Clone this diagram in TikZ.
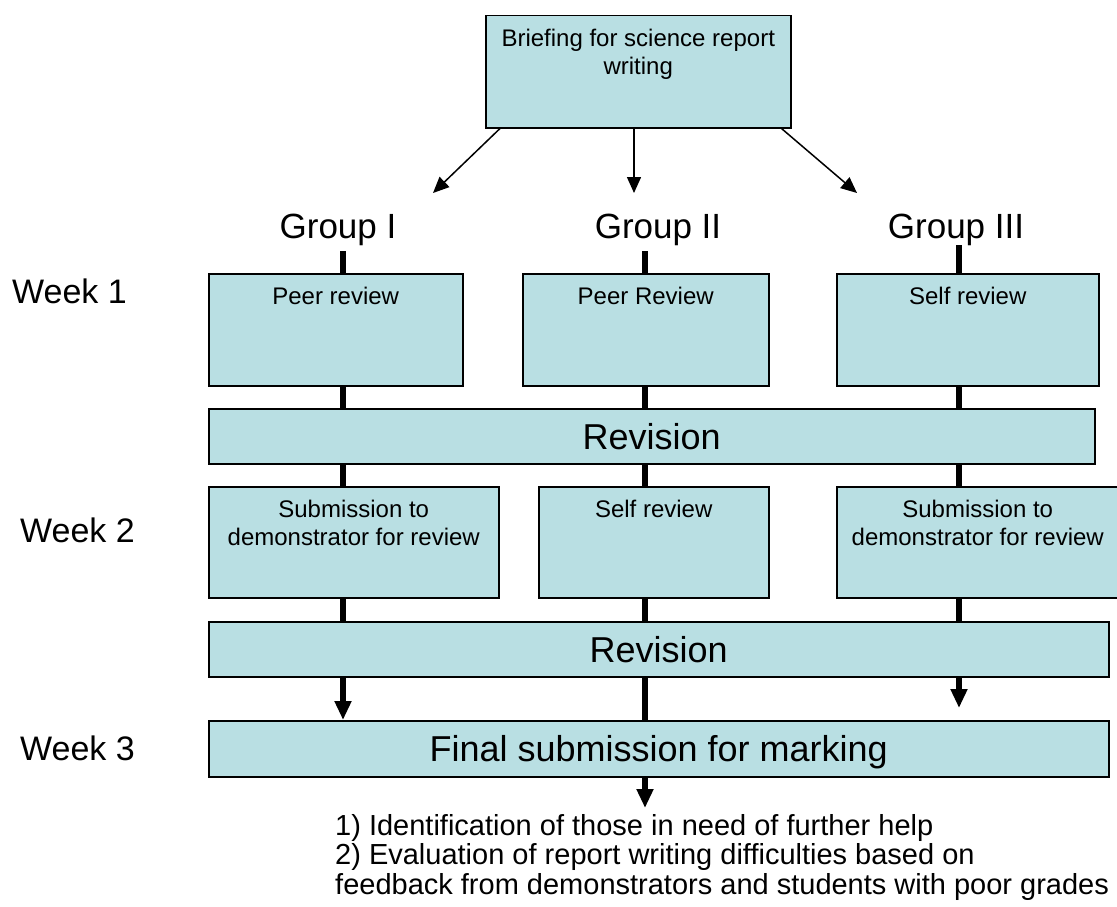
\documentclass[tikz,border=0pt]{standalone}
\usepackage{fontspec}
\setmainfont{Liberation Sans}
\usetikzlibrary{arrows.meta, positioning}
\definecolor{boxblue}{RGB}{185,223,227}
\tikzstyle{stage} = [rectangle, draw=black, line width=1.5pt, fill=boxblue, inner sep=0pt, anchor=north west]
\tikzstyle{bar} = [stage, font=\fontsize{36}{40}\selectfont]
\tikzstyle{inbox} = [anchor=north, inner sep=0pt, align=center, font=\fontsize{24}{28}\selectfont]
\tikzstyle{grouplabel} = [font=\fontsize{35}{40}\selectfont, inner sep=6pt, anchor=base]
\tikzstyle{weeklabel} = [font=\fontsize{34}{40}\selectfont, inner sep=0pt, anchor=base west]
\tikzstyle{link} = [line width=6pt]
\tikzstyle{arrow} = [line width=1.5pt, -{Triangle[length=16pt, width=14pt]}]
\tikzstyle{bigarrow} = [line width=6pt, -{Triangle[length=19pt, width=16pt]}]

\begin{document}
\begin{tikzpicture}[x=1pt, y=-1pt]
\useasboundingbox (0,0) rectangle (1117,907);

% columns
\coordinate (c1) at (343,0);
\coordinate (c2) at (645,0);
\coordinate (c3) at (959,0);

\node (brief) [stage, minimum width=305pt, minimum height=112pt, label={[inbox, yshift=-14pt]north:Briefing for science report\\writing}] at (485,15) {};

\node (g1) [grouplabel] at (338,238) {Group I};
\node (g2) [grouplabel] at (658,238) {Group II};
\node (g3) [grouplabel] at (956,238) {Group III};

\coordinate (t1) at (433,193);
\coordinate (t2) at (634,193);
\coordinate (t3) at (857,193);
\draw [arrow] ([xshift=15pt]brief.south west) -- (t1);
\draw [arrow] (brief.south -| t2) -- (t2);
\draw [arrow] ([xshift=-10pt]brief.south east) -- (t3);

% week labels
\node (wk1) [weeklabel] at (12,303) {Week 1};
\node (wk2) [weeklabel] at (20,542) {Week 2};
\node (wk3) [weeklabel] at (20,760) {Week 3};

% week 1
\node (w1a) [stage, minimum width=254pt, minimum height=112pt, label={[inbox, yshift=-14pt]north:Peer review}] at (208,273) {};
\node (w1b) [stage, minimum width=246pt, minimum height=112pt, label={[inbox, yshift=-14pt]north:Peer Review}] at (522,273) {};
\node (w1c) [stage, minimum width=262pt, minimum height=112pt, label={[inbox, yshift=-14pt]north:Self review}] at (836,273) {};
\node (rev1) [bar, minimum width=886pt, minimum height=55pt] at (208,408) {Revision};

% week 2
\node (w2a) [stage, minimum width=290pt, minimum height=111pt, label={[inbox, yshift=-14pt]north:Submission to\\demonstrator for review}] at (208,486) {};
\node (w2b) [stage, minimum width=230pt, minimum height=111pt, label={[inbox, yshift=-14pt]north:Self review}] at (538,486) {};
\node (w2c) [stage, minimum width=282pt, minimum height=111pt, label={[inbox, yshift=-14pt]north:Submission to\\demonstrator for review}] at (836,486) {};
\node (rev2) [bar, minimum width=900pt, minimum height=55pt] at (208,621) {Revision};

% week 3
\node (final) [bar, minimum width=900pt, minimum height=56pt, text depth=0pt] at (208,720) {Final submission for marking};
\coordinate (t4) at (645,808);
\node (notes) [anchor=north west, inner sep=0pt, align=left, font=\fontsize{29}{29.5}\selectfont] at (335,814) {1) Identification of those in need of further help\\2) Evaluation of report writing difficulties based on\\feedback from demonstrators and students with poor grades};

\draw [link] (g1.south -| c1) -- (w1a.north -| c1);
\draw [link] (g2.south -| c2) -- (w1b.north -| c2);
\draw [link] ([yshift=6pt]g3.south -| c3) -- (w1c.north -| c3);

\draw [link] (w1a.south -| c1) -- (rev1.north -| c1);
\draw [link] (w1b.south -| c2) -- (rev1.north -| c2);
\draw [link] (w1c.south -| c3) -- (rev1.north -| c3);

\draw [link] (rev1.south -| c1) -- (w2a.north -| c1);
\draw [link] (rev1.south -| c2) -- (w2b.north -| c2);
\draw [link] (rev1.south -| c3) -- (w2c.north -| c3);

\draw [link] (w2a.south -| c1) -- (rev2.north -| c1);
\draw [link] (w2b.south -| c2) -- (rev2.north -| c2);
\draw [link] (w2c.south -| c3) -- (rev2.north -| c3);

\draw [bigarrow] (rev2.south -| c1) -- (final.north -| c1);
\draw [link] (rev2.south -| c2) -- (final.north -| c2);
\draw [bigarrow] (rev2.south -| c3) -- ([yshift=12pt]final.north -| c3);

\draw [bigarrow] (final.south -| c2) -- (t4);

\end{tikzpicture}
\end{document}
